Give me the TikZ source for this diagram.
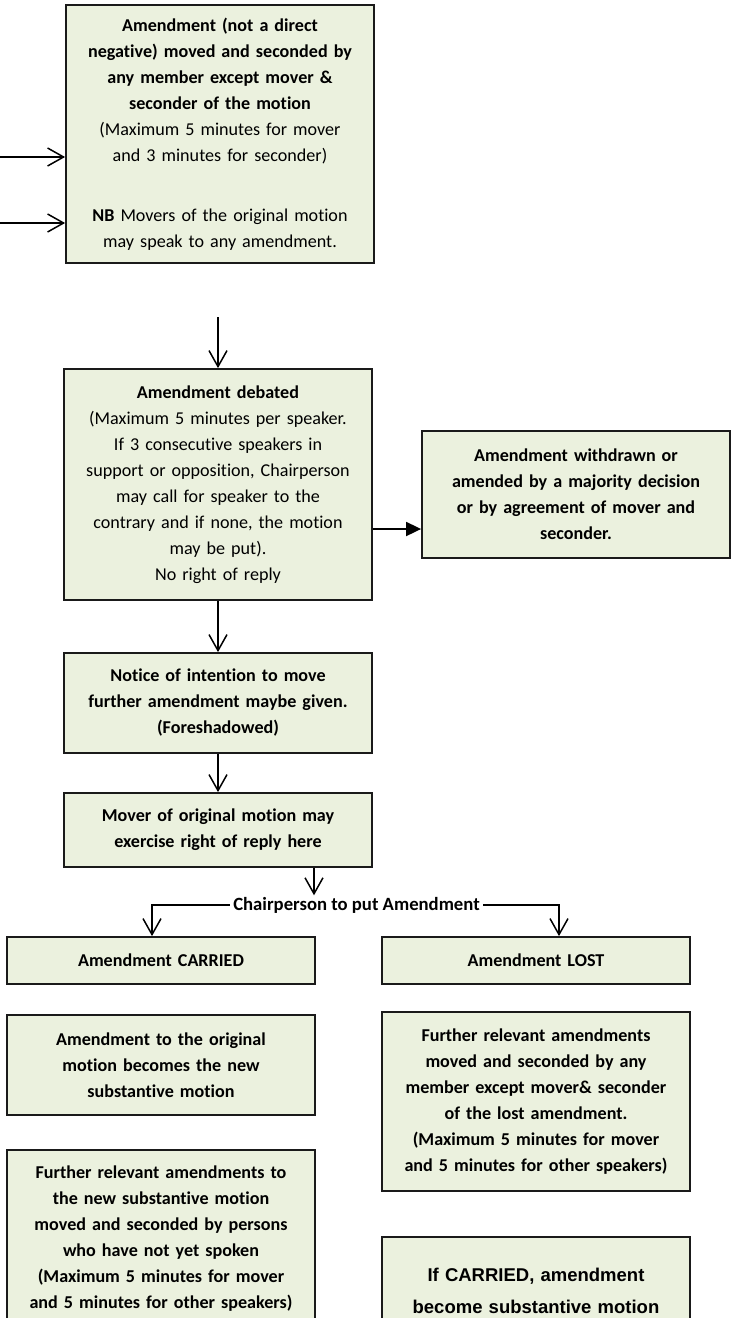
\documentclass[tikz,border=0pt]{standalone}
\usepackage{fontspec}
\setmainfont{Carlito}[Ligatures=NoCommon]
\newfontfamily\arialfont{Liberation Sans}
\usetikzlibrary{arrows.meta}
\definecolor{boxfill}{HTML}{EBF1DE}
\definecolor{boxline}{HTML}{1A1A1A}

\tikzset{
	box/.style={draw=boxline, line width=1.8pt, fill=boxfill, minimum width=308pt,
		text width=304pt, align=center, inner sep=0pt},
	boldbox/.style={box, font=\fontsize{18.1}{26}\selectfont\bfseries},
	open/.style={-{Straight Barb[length=16pt,width=18pt]}, line width=1.5pt},
	headarr/.style={-{Triangle[length=15pt,width=14pt]}, line width=1.8pt}
}

\begin{document}
\begin{tikzpicture}[x=1pt, y=-1pt, font=\fontsize{18.1}{26}\selectfont]

\useasboundingbox (0,0) rectangle (734,1318);

\node[box, minimum height=258pt] (amend) at (220,134) {{\bfseries Amendment (not a direct\\
	negative) moved and seconded by\\ any member except mover \&\\
	seconder of the motion}\\ (Maximum 5 minutes for mover\\
	and 3 minutes for seconder)\\[34pt] {\bfseries NB} Movers of the original motion\\
	may speak to any amendment.};
\node[box, minimum height=231pt] (debated) at (218,484.5) {{\bfseries Amendment debated}\\
	(Maximum 5 minutes per speaker.\\ If 3 consecutive speakers in\\
	support or opposition, Chairperson\\ may call for speaker to the\\
	contrary and if none, the motion\\ may be put).\\ No right of reply};
\node[boldbox, minimum height=127pt] (withdrawn) at (576,494.5)
	{Amendment withdrawn or\\ amended by a majority decision\\ or by agreement of mover and\\ seconder.};
\node[boldbox, minimum height=100pt] (notice) at (218,703)
	{Notice of intention to move\\ further amendment maybe given.\\ (Foreshadowed)};
\node[boldbox, minimum height=74pt] (reply) at (218,830)
	{Mover of original motion may\\ exercise right of reply here};

\node[inner xsep=3.5pt, inner ysep=1.5pt, font=\fontsize{18.7}{26}\selectfont\bfseries] (chair) at (356.5,905)
	{Chairperson to put Amendment};

\node[boldbox, minimum height=47pt] (carried) at (161,960.5) {Amendment CARRIED};
\node[boldbox, minimum height=47pt] (lost) at (536,960.5) {Amendment LOST};
\node[boldbox, minimum height=100pt] (newsub) at (161,1065)
	{Amendment to the original\\ motion becomes the new\\ substantive motion};
\node[boldbox, minimum height=179pt] (furtherlost) at (536,1101.5)
	{Further relevant amendments\\ moved and seconded by any\\ member except mover\& seconder\\
	of the lost amendment.\\ (Maximum 5 minutes for mover\\ and 5 minutes for other speakers)};
\node[boldbox, minimum height=178pt] (furthernew) at (161,1239)
	{Further relevant amendments to\\ the new substantive motion\\ moved and seconded by persons\\
	who have not yet spoken\\ (Maximum 5 minutes for mover\\ and 5 minutes for other speakers)};
\node[box, minimum height=108pt, font=\arialfont\bfseries\fontsize{18.5}{32}\selectfont] (ifcarried) at (536,1291)
	{If CARRIED, amendment\\ become substantive motion};

% arrows into the first box
\coordinate (in1) at (0,157);
\coordinate (in2) at (0,223);
\foreach \i in {1,2}
{
	\draw[open] (in\i) -- (in\i -| amend.west);
};

\coordinate (gap) at (218,317);
\draw[open] (gap) -- (debated.north);

\coordinate (wd) at ([yshift=-34.5pt]withdrawn.west);
\draw[headarr] (wd -| debated.east) -- (wd);

\foreach \a/\b in {debated/notice, notice/reply}
{
	\draw[open] (\a) -- (\b);
};

\draw[open] ([xshift=96pt]reply.south) -- ([xshift=96pt]reply.south |- chair.north);
\draw[open] (chair.west) -| ([xshift=-9pt]carried.north);
\draw[open] (chair.east) -| ([xshift=23pt]lost.north);

\end{tikzpicture}
\end{document}
